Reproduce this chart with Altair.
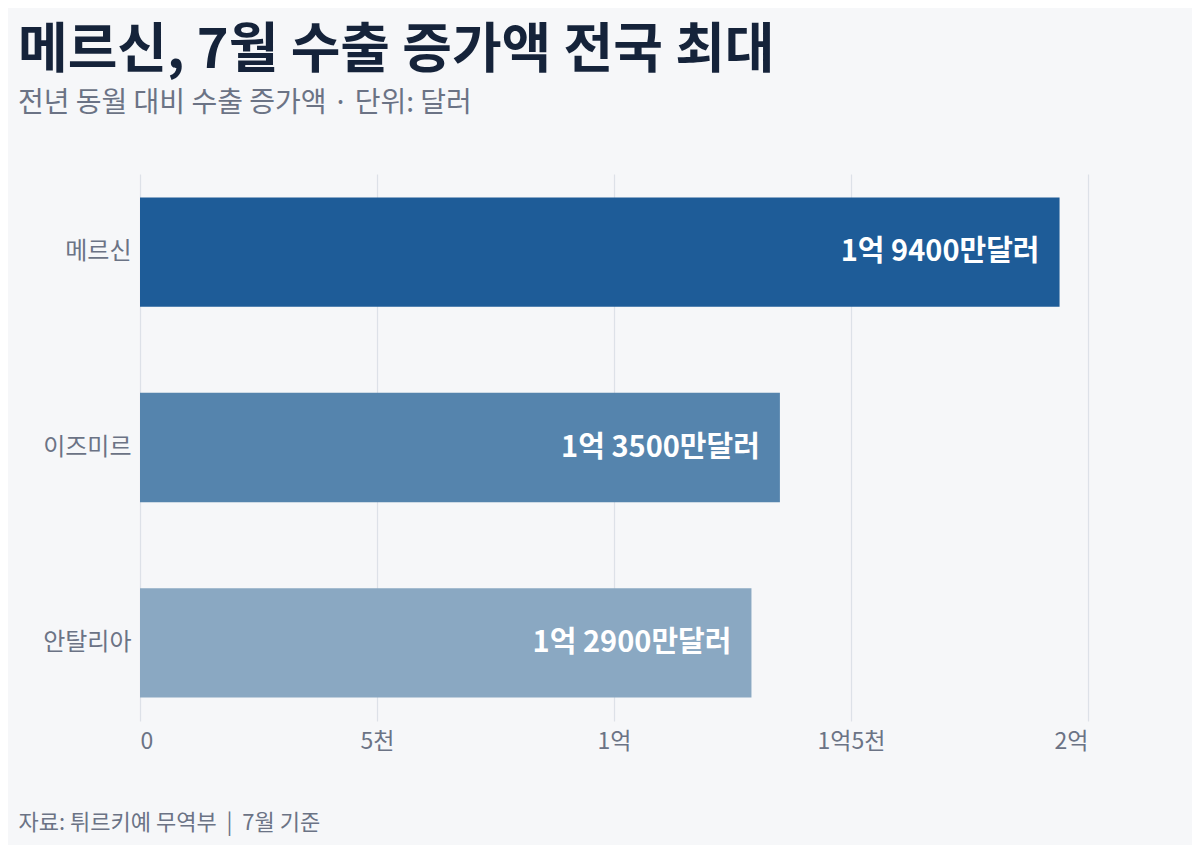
import pandas as pd
import altair as alt

# data
regions = ["메르신", "이즈미르", "안탈리아"]
increase_usd = [194_000_000, 135_000_000, 129_000_000]
value_labels = ["1억 9400만달러", "1억 3500만달러", "1억 2900만달러"]
bar_colors = ["#1e5c98", "#5584ad", "#8aa8c2"]

tick_values = [0, 50_000_000, 100_000_000, 150_000_000, 200_000_000]
tick_labels = ["0", "5천", "1억", "1억5천", "2억"]

FONT = "Noto Sans CJK KR"
GRAY = "#6b7385"
NBSP = "\u00a0"

df = pd.DataFrame({"region": regions, "value": increase_usd, "label": value_labels})

label_expr = " : ".join(
    f"datum.value == {v} ? '{t}'" for v, t in zip(tick_values, tick_labels)
) + " : ''"

footer = f"자료: 튀르키예 무역부{NBSP * 2}|{NBSP * 2}7월 기준"

base = alt.Chart(df)

bars = base.mark_bar().encode(
    x=alt.X(
        "value:Q",
        scale=alt.Scale(domain=[0, 200_000_000], nice=False),
        axis=alt.Axis(
            values=tick_values,
            labelExpr=label_expr,
            labelFont=FONT,
            labelFontSize=23,
            labelColor=GRAY,
            labelPadding=9,
            ticks=False,
            domain=False,
            grid=True,
            gridColor="#dde1e8",
            gridWidth=1.2,
            title=footer,
            titleFont=FONT,
            titleFontSize=22,
            titleFontWeight="normal",
            titleColor=GRAY,
            titleAlign="left",
            titleBaseline="middle",
            titleX=-122,
            titleY=101,
        ),
    ),
    y=alt.Y(
        "region:N",
        sort=regions,
        scale=alt.Scale(paddingInner=0.44, paddingOuter=0.12),
        axis=alt.Axis(
            title=None,
            labelFont=FONT,
            labelFontSize=24,
            labelColor=GRAY,
            labelPadding=9,
            ticks=False,
            domain=False,
            grid=False,
        ),
    ),
    color=alt.Color(
        "region:N",
        scale=alt.Scale(domain=regions, range=bar_colors),
        legend=None,
    ),
)

text = base.mark_text(
    align="right",
    baseline="middle",
    dx=-20,
    font=FONT,
    fontSize=29,
    fontWeight="bold",
    color="white",
).encode(
    x="value:Q",
    y=alt.Y("region:N", sort=regions),
    text="label:N",
)

chart = alt.layer(bars, text).properties(
    width=948,
    height=547,
    autosize=alt.AutoSizeParams(type="none"),
    padding={"left": 132, "top": 166, "right": 104, "bottom": 124},
    background="#f6f7f9",
    title=alt.TitleParams(
        text="메르신, 7월 수출 증가액 전국 최대",
        subtitle="전년 동월 대비 수출 증가액 · 단위: 달러",
        anchor="start",
        frame="group",
        dx=-122,
        offset=56,
        font=FONT,
        fontSize=54,
        fontWeight="bold",
        color="#15233a",
        subtitleFont=FONT,
        subtitleFontSize=28,
        subtitleColor=GRAY,
        subtitlePadding=11,
    ),
).configure_view(stroke=None)

chart.save("out.html", embed_options={"renderer": "svg", "actions": False})
